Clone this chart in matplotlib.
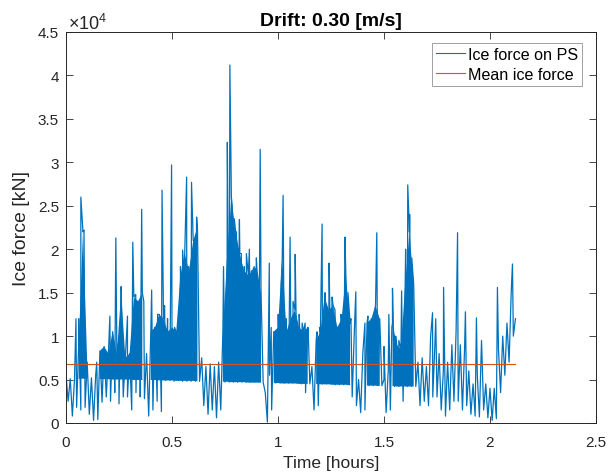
import matplotlib
matplotlib.use('Agg')
import matplotlib.pyplot as plt
import numpy as np
from matplotlib.ticker import FuncFormatter, MultipleLocator

plt.rcParams['font.family'] = ['Liberation Sans', 'DejaVu Sans']

# sample grid of the read envelope, every 0.02 h
hours = np.linspace(0, 2.12, 107)

# top of the trace at each sample [kN]
force_hi = [5600, 5100, 5000, 9000, 22000, 7000, 5200, 5500, 8300, 8800,
            8000, 10500, 8000, 15000, 7500, 8000, 14500, 14000, 15000, 8000,
            10500, 11000, 12500, 12000, 10500, 11000, 10500, 17000, 19500, 17500,
            21000, 22500, 7500, 6500, 6800, 6500, 7000, 10500, 19000, 26000,
            22000, 19500, 17500, 17000, 17500, 18000, 15000, 3500, 5500, 10500,
            11000, 19000, 10500, 12000, 13000, 11000, 10500, 11000, 6500, 9500,
            10500, 14500, 13000, 13500, 11000, 12000, 17000, 11500, 10500, 5000,
            8000, 11500, 12000, 13500, 12000, 5000, 6000, 11500, 9000, 8500,
            16000, 22000, 16000, 7000, 7500, 6500, 10000, 9000, 8000, 6000,
            7000, 9000, 10500, 9000, 8500, 6000, 4500, 5500, 9500, 4500,
            4000, 4000, 8500, 10000, 11500, 15000, 12000]

# bottom of the trace right after each sample [kN]
force_lo = [2500, 800, 1800, 1500, 1800, 1000, 300, 400, 2400, 3000,
            2500, 3500, 2200, 3000, 3000, 1500, 3500, 3000, 2800, 800,
            1500, 2500, 1300, 4900, 4900, 4800, 4900, 4800, 4800, 4800,
            4800, 4800, 2000, 1000, 1500, 600, 1500, 4700, 4700, 4700,
            4700, 4700, 4700, 4700, 4700, 4700, 4700, 100, 1500, 4600,
            4600, 4600, 4600, 4600, 4600, 4500, 3500, 4500, 1500, 2000,
            4500, 4500, 4500, 4400, 4400, 4400, 4400, 3000, 2000, 1200,
            1500, 4300, 4300, 4300, 4300, 1200, 1500, 4200, 4200, 2500,
            4200, 4200, 4200, 2000, 2500, 2000, 3000, 3000, 1500, 800,
            1500, 2500, 2500, 1500, 2000, 1000, 800, 700, 1500, 600,
            300, 500, 3500, 5500, 7000, 10000, 3200]

# floor the trace keeps dropping back to (first 1.65 h) [kN]
force_floor = [5150, 5150, 5100, 5100, 5100, 5100, 5050, 5050, 5050, 5050, 5050,
               5000, 5000, 5000, 5000, 5000, 4950, 4950, 4950, 4950, 4950,
               4950, 4900, 4900, 4900, 4900, 4850, 4850, 4850, 4850, 4850,
               4800, 4800, 4800, 4800, 4800, 4750, 4750, 4750, 4700, 4700,
               4700, 4700, 4650, 4650, 4650, 4650, 4600, 4600, 4600, 4600,
               4550, 4550, 4550, 4550, 4500, 4500, 4500, 4500, 4500, 4450,
               4450, 4450, 4400, 4400, 4400, 4400, 4350, 4350, 4350, 4300,
               4300, 4300, 4300, 4250, 4250, 4250, 4250, 4200, 4200, 4200, 4200, 4200] \
              + [np.nan] * 24

# stretches where the trace sits on the floor (solid band) [h]
band_start = [0.055, 0.15, 0.39, 0.73, 0.97, 1.17, 1.41, 1.53]
band_end = [0.10, 0.37, 0.62, 0.93, 1.15, 1.35, 1.49, 1.65]

# isolated tall spikes
spike_t = [0.047, 0.070, 0.085, 0.207, 0.235, 0.260, 0.290, 0.315, 0.357, 0.404,
           0.453, 0.498, 0.569, 0.592, 0.616, 0.743, 0.761, 0.773, 0.818, 0.865,
           0.916, 0.959, 1.024, 1.057, 1.081, 1.208, 1.241, 1.316, 1.367, 1.466,
           1.500, 1.540, 1.583, 1.612, 1.729, 1.744, 1.781, 1.847, 1.884, 1.936,
           2.035, 2.106]
spike_f = [12000, 26000, 22200, 12300, 21300, 15700, 12300, 20800, 24600, 15300,
           26800, 29700, 28300, 27700, 23700, 18000, 32300, 41200, 23400, 20000,
           31500, 18400, 26200, 21400, 19400, 22900, 18400, 21400, 15100, 21900,
           8800, 15500, 15200, 27400, 12700, 12000, 15600, 21900, 12800, 12100,
           15600, 18300]

# smaller peaks on top of the solid band
peak_t = [0.060, 0.078, 0.145, 0.226, 0.249, 0.329, 0.338, 0.348, 0.367, 0.418,
          0.432, 0.442, 0.465, 0.479, 0.512, 0.526, 0.540, 0.550, 0.559, 0.578,
          0.602, 0.784, 0.794, 0.804, 0.827, 0.841, 0.851, 0.874, 0.888, 0.898,
          0.968, 0.987, 1.001, 1.015, 1.039, 1.071, 1.100, 1.114, 1.128, 1.142,
          1.184, 1.198, 1.222, 1.255, 1.269, 1.283, 1.297, 1.330, 1.344, 1.410,
          1.424, 1.438, 1.452, 1.480, 1.523, 1.537, 1.555, 1.570, 1.602, 1.621,
          1.631]
peak_f = [12000, 22900, 7000, 9000, 9500, 14800, 14000, 13800, 14000, 11000,
          12500, 11000, 13500, 12000, 11000, 10500, 18000, 19900, 16500, 18000,
          21000, 25000, 23500, 22000, 19500, 18000, 19500, 17500, 18000, 19000,
          11000, 10500, 12500, 16000, 12000, 14000, 12500, 11500, 11500, 11000,
          10500, 11000, 15000, 14500, 13000, 11000, 12500, 15000, 12000, 11500,
          12300, 10500, 12500, 12000, 12500, 11000, 10000, 9500, 20000, 24000,
          19000]

mean_force = 6750
t_end = 2.12

# build the trace: hi at t, lo half a step later, peaks in between
t_all = np.concatenate([hours, hours + 0.01, spike_t, peak_t])
f_all = np.concatenate([force_hi, force_lo, spike_f, peak_f])
order = np.argsort(t_all, kind='stable')
t_all = t_all[order]
f_all = f_all[order]
keep = t_all <= t_end + 0.001
t_all, f_all = t_all[keep], f_all[keep]

hi = np.array(force_hi, dtype=float)
floor = np.array(force_floor, dtype=float)
in_band = np.zeros(len(hours), dtype=bool)
for a, b in zip(band_start, band_end):
    in_band |= (hours >= a) & (hours <= b)

blue = '#0072BD'
orange = '#D95319'
dark = '#262626'

fig = plt.figure(figsize=(6.10, 4.77), dpi=100)
ax = fig.add_axes([66/610, 1-424/477, (596-66)/610, (424-33)/477])

ax.fill_between(hours, floor, hi, where=in_band, color=blue, lw=0)
ax.plot(t_all, f_all, color=blue, lw=0.9, label='Ice force on PS')
ax.plot([0, t_end], [mean_force, mean_force], color=orange, lw=0.8, label='Mean ice force')

ax.set_xlim(0, 2.5)
ax.set_ylim(0, 45000)
ax.xaxis.set_major_locator(MultipleLocator(0.5))
ax.yaxis.set_major_locator(MultipleLocator(5000))
ax.xaxis.set_major_formatter(FuncFormatter(lambda v, p: '%g' % v))
ax.yaxis.set_major_formatter(FuncFormatter(lambda v, p: '%g' % (v/1e4)))
ax.tick_params(direction='in', length=5, width=0.6, colors=dark, labelsize=11,
               top=True, right=True)
ax.tick_params(axis='x', pad=9)
ax.tick_params(axis='y', pad=5)
for s in ax.spines.values():
    s.set_color(dark)
    s.set_linewidth(0.7)

ax.text(0.003, 0.998, r'$\mathregular{\times10^{4}}$', transform=ax.transAxes,
        fontsize=13, color=dark, ha='left', va='bottom')

ax.set_title('Drift: 0.30 [m/s]', fontsize=14, fontweight='bold', pad=5)
ax.set_xlabel('Time [hours]', fontsize=12.5, color=dark, labelpad=4)
ax.set_ylabel('Ice force [kN]', fontsize=14, color=dark, labelpad=6)

leg = ax.legend(loc='upper right', bbox_to_anchor=(0.9736, 0.972), fontsize=11.6,
                fancybox=False, framealpha=1, borderaxespad=0, handlelength=1.8,
                handletextpad=0.15, borderpad=0.25, labelspacing=0.3)
leg.get_frame().set_edgecolor('#a0a0a0')
leg.get_frame().set_linewidth(0.7)
for h in leg.get_lines():
    h.set_linewidth(0.8)

fig.savefig('out.png', dpi=100)
